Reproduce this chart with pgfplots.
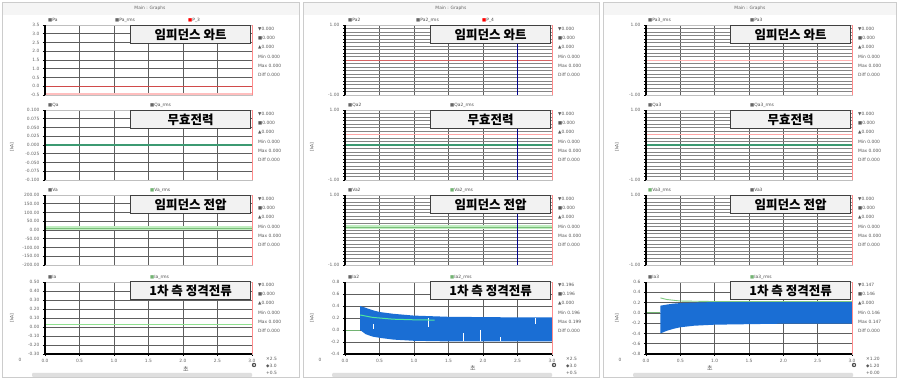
\documentclass[border=0pt]{standalone}
\usepackage{fontspec}
\setmainfont{DejaVu Sans}
\newfontfamily\kr{Noto Sans CJK KR}
\usepackage{pgfplots}
\pgfplotsset{compat=1.18}
\definecolor{gridc}{HTML}{5E5E5E}
\definecolor{lgrid}{HTML}{858585}
\definecolor{bandblue}{HTML}{1A6ED4}
\definecolor{lgreen}{HTML}{8FE08F}
\definecolor{tgreen}{HTML}{3C9A72}
\definecolor{cgreen}{HTML}{4EE6A0}
\definecolor{redl}{HTML}{D04A4A}
\newcommand\tf{\fontsize{4.4}{5}\selectfont}
\newcommand\frameit{%
  \draw[black, line width=1.3pt] (rel axis cs:0,0)--(rel axis cs:0,1);
  \draw[red!45, line width=0.7pt] (rel axis cs:1,0)--(rel axis cs:1,1);}
\newcommand\kbox[3]{\node[draw=black!75, line width=1.3pt, fill=gray!10, anchor=north west,
  minimum width=120pt, minimum height=18pt, inner sep=0pt,
  font=\kr\bfseries\fontsize{12.5}{13}\selectfont] at (#1pt,-#2pt) {#3};}
\newcommand\readout[8]{%
  \node[anchor=west, font=\tf, text=black!65, inner sep=0pt] at (#1pt,-#2-4pt) {▼#3};
  \node[anchor=west, font=\tf, text=black!65, inner sep=0pt] at (#1pt,-#2-13pt) {■#4};
  \node[anchor=west, font=\tf, text=black!65, inner sep=0pt] at (#1pt,-#2-22pt) {▲#5};
  \node[anchor=west, font=\tf, text=black!65, inner sep=0pt] at (#1pt,-#2-32pt) {Min #6};
  \node[anchor=west, font=\tf, text=black!65, inner sep=0pt] at (#1pt,-#2-41pt) {Max #7};
  \node[anchor=west, font=\tf, text=black!65, inner sep=0pt] at (#1pt,-#2-50pt) {Diff #8};}
\newcommand\leg[4]{\node[anchor=west, font=\tf, text=black!70, inner sep=0pt] at (#1pt,-#2pt) {\textcolor{#3}{■}#4};}
\pgfplotsset{
  base/.style={scale only axis, width=207pt, height=70pt, anchor=north west,
    xmin=0, xmax=3, xtick={0,0.5,1,1.5,2,2.5,3}, xticklabels={},
    xmajorgrids, ymajorgrids,
    major grid style={gridc, line width=0.5pt},
    minor grid style={lgrid, line width=0.4pt},
    axis line style={draw=gray!50, line width=0.4pt},
    ytick pos=left, xtick pos=bottom,
    tick align=outside, major tick length=2pt, minor tick length=1.8pt,
    tick style={black, line width=0.5pt},
    xtick style={draw=none},
    ticklabel style={font=\tf, text=black!60},
    /pgf/number format/assume math mode=true,
    y tick label style={/pgf/number format/fixed, /pgf/number format/fixed zerofill},
    axis background/.style={fill=white},
    clip mode=individual},
  dense/.style={base, ymin=-1, ymax=1, ytick={-1,1},
    minor ytick={-0.9,-0.8,-0.7,-0.6,-0.5,-0.4,-0.3,-0.2,-0.1,0,0.1,0.2,0.3,0.4,0.5,0.6,0.7,0.8,0.9},
    yminorgrids, y tick label style={/pgf/number format/precision=2}},
  last/.style={height=72pt, xticklabels={0.0,0.5,1.0,1.5,2.0,2.5,3.0},
    xtick style={draw=black}}
}
\begin{document}
\begin{tikzpicture}
\useasboundingbox (0,0) rectangle (898pt,-379pt);
\fill[white] (0,0) rectangle (898pt,-379pt);
% panel frames
\foreach \a/\b in {2/299,303/599,603/896}{
  \fill[gray!8] (\a pt,-2pt) rectangle (\b pt,-15pt);
  \draw[gray!40, line width=0.5pt] (\a pt,-2pt) rectangle (\b pt,-377pt);
}
\node[font=\tf, text=black!60] at (150pt,-8pt) {Main : Graphs};
\node[font=\tf, text=black!60] at (451pt,-8pt) {Main : Graphs};
\node[font=\tf, text=black!60] at (750pt,-8pt) {Main : Graphs};

% ================= PANEL 1 =================
\begin{axis}[base, at={(45pt,-25pt)}, ymin=-0.5, ymax=3.5,
  ytick={-0.5,0,0.5,1,1.5,2,2.5,3,3.5}, y tick label style={/pgf/number format/precision=1}]
\addplot[red!25, line width=1.5pt] coordinates {(0,-0.45)(3,-0.45)};
\addplot[redl, line width=0.8pt] coordinates {(0,0)(3,0)};
\frameit
\end{axis}
\begin{axis}[base, at={(45pt,-110pt)}, ymin=-0.1, ymax=0.1,
  ytick={-0.1,-0.075,-0.05,-0.025,0,0.025,0.05,0.075,0.1}, y tick label style={/pgf/number format/precision=3}]
\addplot[tgreen, line width=1.3pt] coordinates {(0,0)(3,0)};
\frameit
\end{axis}
\begin{axis}[base, at={(45pt,-195pt)}, ymin=-200, ymax=200,
  ytick={-200,-150,-100,-50,0,50,100,150,200}, y tick label style={/pgf/number format/precision=2}]
\addplot[lgreen!55, line width=3.5pt] coordinates {(0,12)(3,12)};
\addplot[lgreen!85!black, line width=0.6pt] coordinates {(0,12)(3,12)};
\frameit
\end{axis}
\begin{axis}[base, last, at={(45pt,-282pt)}, ymin=-0.3, ymax=0.5,
  ytick={-0.3,-0.2,-0.1,0,0.1,0.2,0.3,0.4,0.5}, y tick label style={/pgf/number format/precision=2}]
\addplot[lgreen, line width=1pt] coordinates {(0,0.03)(3,0.03)};
\frameit
\draw[black, line width=1.3pt] (rel axis cs:0,0)--(rel axis cs:1,0);
\end{axis}

% ================= PANEL 2 =================
\begin{axis}[dense, at={(345pt,-25pt)}]
\addplot[redl!85, line width=0.8pt] coordinates {(0,0)(3,0)};
\addplot[blue!55!black, line width=0.6pt] coordinates {(2.5,-1)(2.5,1)};
\frameit
\end{axis}
\begin{axis}[dense, at={(345pt,-110pt)}]
\addplot[red!35, line width=0.5pt] coordinates {(0,0.3)(3,0.3)};
\addplot[tgreen, line width=1.6pt] coordinates {(0,0)(3,0)};
\addplot[blue!55!black, line width=0.6pt] coordinates {(2.5,-1)(2.5,1)};
\frameit
\end{axis}
\begin{axis}[dense, at={(345pt,-195pt)}]
\addplot[lgreen!55, line width=3.5pt] coordinates {(0,0.08)(3,0.08)};
\addplot[lgreen!85!black, line width=0.6pt] coordinates {(0,0.08)(3,0.08)};
\addplot[blue!55!black, line width=0.6pt] coordinates {(2.5,-1)(2.5,1)};
\frameit
\end{axis}
\begin{axis}[base, last, at={(345pt,-282pt)}, ymin=-0.4, ymax=0.8,
  ytick={-0.4,-0.2,0,0.2,0.4,0.6,0.8}, y tick label style={/pgf/number format/precision=1}]
\addplot[lgreen!80!black, line width=0.8pt] coordinates {(0,0)(0.22,0)};
\addplot[fill=bandblue, draw=none] coordinates {
  (0.22,0.40)(0.3,0.37)(0.4,0.33)(0.5,0.30)(0.7,0.27)(1.0,0.24)(1.5,0.22)(2.0,0.215)(2.5,0.21)(3.0,0.21)
  (3.0,-0.19)(2.5,-0.19)(2.0,-0.19)(1.5,-0.19)(1.0,-0.18)(0.7,-0.16)(0.5,-0.13)(0.4,-0.11)(0.3,-0.07)(0.22,0.0)};
\addplot[white, line width=0.6pt] coordinates {(1.21,0.05)(1.21,0.20)};
\addplot[white, line width=0.6pt] coordinates {(1.72,-0.05)(1.72,-0.18)};
\addplot[white, line width=0.6pt] coordinates {(1.96,0.0)(1.96,-0.18)};
\addplot[white, line width=0.6pt] coordinates {(2.25,-0.12)(2.25,-0.19)};
\addplot[white, line width=0.6pt] coordinates {(2.76,0.10)(2.76,0.20)};
\addplot[white, line width=0.6pt] coordinates {(0.41,0.02)(0.41,0.10)};
\addplot[cgreen, line width=1pt] coordinates {(0.22,0.25)(0.4,0.21)(0.7,0.18)(1.0,0.17)(1.3,0.165)};
\frameit
\draw[black, line width=1.3pt] (rel axis cs:0,0)--(rel axis cs:1,0);
\end{axis}

% ================= PANEL 3 =================
\begin{axis}[dense, at={(646pt,-25pt)}, width=206pt]
\addplot[red!30, line width=0.5pt] coordinates {(0,0)(3,0)};
\frameit
\end{axis}
\begin{axis}[dense, at={(646pt,-110pt)}, width=206pt]
\addplot[red!35, line width=0.5pt] coordinates {(0,0.3)(3,0.3)};
\addplot[tgreen, line width=1.6pt] coordinates {(0,0)(3,0)};
\frameit
\end{axis}
\begin{axis}[dense, at={(646pt,-195pt)}, width=206pt]
\addplot[gray!70!black, line width=0.8pt] coordinates {(0,0)(3,0)};
\frameit
\end{axis}
\begin{axis}[base, last, at={(646pt,-282pt)}, width=206pt, ymin=-0.8, ymax=0.6,
  ytick={-0.8,-0.6,-0.4,-0.2,0,0.2,0.4,0.6}, y tick label style={/pgf/number format/precision=1}]
\addplot[lgreen!80!black, line width=0.8pt] coordinates {(0,0)(0.21,0)};
\addplot[fill=bandblue, draw=none] coordinates {
  (0.21,0.14)(0.3,0.16)(0.4,0.18)(0.5,0.19)(0.7,0.20)(1.0,0.21)(1.5,0.21)(2.0,0.21)(2.5,0.21)(3.0,0.21)
  (3.0,-0.21)(2.5,-0.21)(2.0,-0.21)(1.5,-0.22)(1.0,-0.23)(0.7,-0.25)(0.5,-0.28)(0.4,-0.31)(0.3,-0.35)(0.21,-0.40)};
\addplot[lgreen!90!black, line width=0.9pt] coordinates {(0.21,0.29)(0.3,0.26)(0.5,0.23)(1.0,0.22)(3.0,0.22)};
\frameit
\draw[black, line width=1.3pt] (rel axis cs:0,0)--(rel axis cs:1,0);
\end{axis}

% ===== Korean title boxes =====
\foreach \L in {130,430,730}{
  \kbox{\L}{25}{임피던스 와트}
  \kbox{\L}{110}{무효전력}
  \kbox{\L}{195}{임피던스 전압}
  \kbox{\L}{281}{1차 측 정격전류}
}

% ===== readouts =====
\foreach \X in {258,558}{
  \readout{\X}{25}{0.000}{0.000}{0.000}{0.000}{0.000}{0.000}
  \readout{\X}{110}{0.000}{0.000}{0.000}{0.000}{0.000}{0.000}
  \readout{\X}{195}{0.000}{0.000}{0.000}{0.000}{0.000}{0.000}
}
\readout{858}{25}{0.000}{0.000}{0.000}{0.000}{0.000}{0.000}
\readout{858}{110}{0.000}{0.000}{0.000}{0.000}{0.000}{0.000}
\readout{858}{195}{0.000}{0.000}{0.000}{0.000}{0.000}{0.000}
\readout{258}{281}{0.000}{0.000}{0.000}{0.000}{0.000}{0.000}
\readout{558}{281}{0.196}{0.196}{0.000}{0.196}{0.199}{0.000}
\readout{858}{281}{0.147}{0.146}{0.000}{0.146}{0.147}{0.000}

% bottom-right cursor readouts
\foreach \X/\a/\b/\c in {266/2.5/3.0/0.5,566/2.5/3.0/0.5,866/1.20/1.20/0.00}{
  \node[anchor=west, font=\tf, text=black!65, inner sep=0pt] at (\X pt,-359pt) {✕\a};
  \node[anchor=west, font=\tf, text=black!65, inner sep=0pt] at (\X pt,-366pt) {◆\b};
  \node[anchor=west, font=\tf, text=black!65, inner sep=0pt] at (\X pt,-373pt) {+\c};
}

% ===== legend rows =====
\leg{48}{20}{black!60}{Pa}\leg{115}{20}{black!60}{Pa\_rms}\leg{188}{20}{red}{P\_3}
\leg{48}{105}{black!60}{Qa}\leg{150}{105}{black!60}{Qa\_rms}
\leg{48}{190}{black!60}{Va}\leg{150}{190}{lgreen!80!black}{Va\_rms}
\leg{48}{277}{black!60}{Ia}\leg{150}{277}{lgreen!80!black}{Ia\_rms}
\leg{348}{20}{black!60}{Pa2}\leg{416}{20}{black!60}{Pa2\_rms}\leg{482}{20}{red}{P\_4}
\leg{348}{105}{black!60}{Qa2}\leg{450}{105}{black!60}{Qa2\_rms}
\leg{348}{190}{black!60}{Va2}\leg{450}{190}{lgreen!80!black}{Va2\_rms}
\leg{348}{277}{black!60}{Ia2}\leg{450}{277}{lgreen!80!black}{Ia2\_rms}
\leg{648}{20}{black!60}{Pa3\_rms}\leg{750}{20}{black!60}{Pa3}
\leg{648}{105}{black!60}{Qa3}\leg{750}{105}{black!60}{Qa3\_rms}
\leg{648}{190}{lgreen!80!black}{Va3\_rms}\leg{750}{190}{black!60}{Va3}
\leg{648}{277}{black!60}{Ia3}\leg{750}{277}{lgreen!80!black}{Ia3\_rms}

% y labels
\foreach \X in {12,312,617}{
  \node[rotate=90, font=\tf, text=black!65] at (\X pt,-147pt) {[kA]};
  \node[rotate=90, font=\tf, text=black!65] at (\X pt,-318pt) {[kA]};
}
% x labels
\node[font=\kr\fontsize{6}{6}\selectfont, text=black!70] at (186pt,-369pt) {초};
\node[font=\kr\fontsize{6}{6}\selectfont, text=black!70] at (473pt,-368pt) {초};
\node[font=\kr\fontsize{6}{6}\selectfont, text=black!70] at (710pt,-368pt) {초};
\foreach \X in {20,320,620}{\node[font=\tf, text=black!60] at (\X pt,-360pt) {0};}
% cursor icons
\foreach \X in {254,554,854}{\fill[black!70] (\X pt,-365pt) circle (2.2pt); \fill[white] (\X pt,-365pt) circle (1pt);}
% bottom scrollbars
\foreach \L in {32,332,633}{\fill[gray!25, rounded corners=1pt] (\L pt,-373pt) rectangle (\L pt+220pt,-377pt);}
\end{tikzpicture}
\end{document}
